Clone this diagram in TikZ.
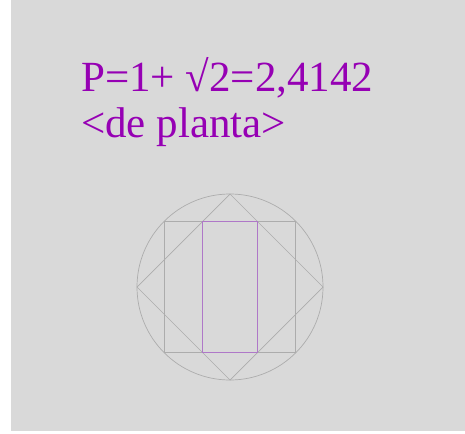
\documentclass[tikz,border=0pt]{standalone}
\usepackage{fontspec}
\setmainfont{Liberation Serif}
\definecolor{plum}{RGB}{150,0,180}
\definecolor{lilac}{RGB}{175,120,200}
\definecolor{paper}{RGB}{217,217,217}
\definecolor{pencil}{RGB}{172,172,172}

\begin{document}
\begin{tikzpicture}[x=1pt,y=-1pt,
  label text/.style={text=plum,font=\fontsize{43}{43}\selectfont,inner sep=0pt,anchor=base west},
  guide/.style={draw=pencil,line width=0.7pt},
  plan/.style={draw=lilac,line width=1.3pt}]
          \useasboundingbox (0,0) rectangle (465,433);
          \fill [paper] (11,0) rectangle (465,431);

          \node[label text] (formula) at (81,92) {P=1+ √2=2,4142};
          \node[label text] (view) at (81,137) {<de planta>};

          \draw[guide] (230,287) circle (93pt);
          \draw[guide] (230,194) -- (323,287) -- (230,380) -- (137,287) -- cycle;
          \draw[guide] (164.24,221.24) rectangle (295.76,352.76);
          \draw[plan] (202.76,221.24) rectangle (257.24,352.76);
        \end{tikzpicture}
\end{document}
